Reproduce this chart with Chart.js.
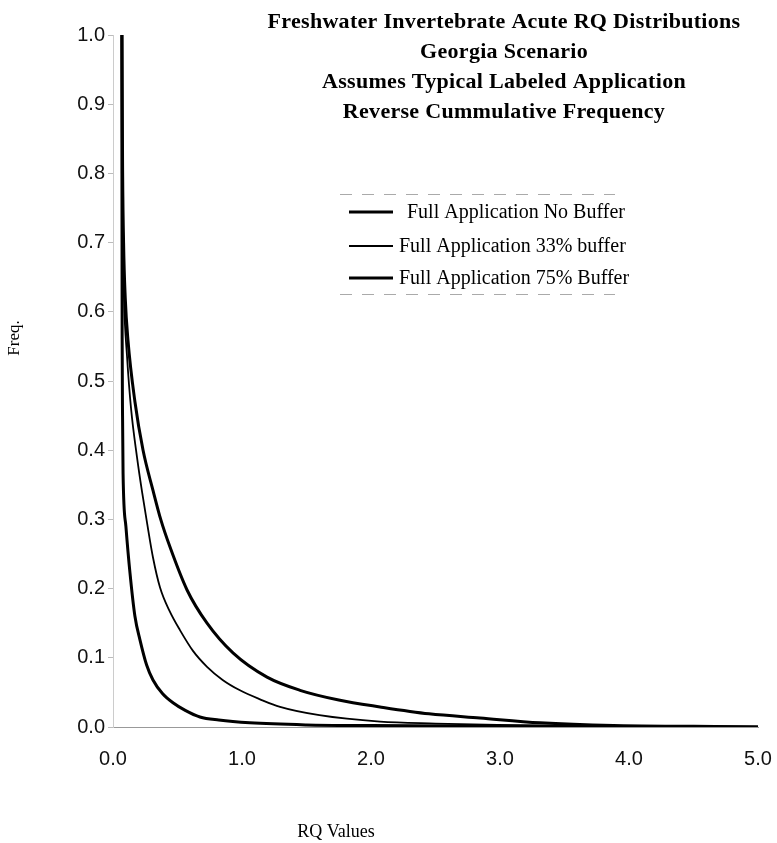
<!DOCTYPE html>
<html>
<head>
<meta charset="utf-8">
<script src="https://cdn.jsdelivr.net/npm/chart.js@4/dist/chart.umd.min.js"></script>
<style>
  html, body { margin: 0; padding: 0; background: #fff; }
  #wrap { width: 777px; height: 843px; position: relative; }
</style>
</head>
<body>
<div id="wrap"><canvas id="grafico"></canvas></div>
<script>
// --- DADOS ---
const TITULO = [
  "Freshwater Invertebrate Acute RQ Distributions",
  "Georgia Scenario",
  "Assumes Typical Labeled Application",
  "Reverse Cummulative Frequency"
];
const LABEL_X = "RQ Values";
const LABEL_Y = "Freq.";
const xTicks = [0, 1, 2, 3, 4, 5];
const yTicks = [0, 0.1, 0.2, 0.3, 0.4, 0.5, 0.6, 0.7, 0.8, 0.9, 1.0];

const seriesNames = [
  "Full Application No Buffer",
  "Full Application 33% buffer",
  "Full Application 75% Buffer"
];

// sem buffer (curva interna)
const noBufferRQ   = [0.068, 0.069, 0.070, 0.071, 0.074, 0.078, 0.10, 0.132, 0.17, 0.209, 0.26, 0.31, 0.385, 0.465, 0.56, 0.674, 0.82, 1.06, 1.5, 2.0, 3.0, 4.0, 5.0];
const noBufferFreq = [1.0, 0.85, 0.70, 0.56, 0.45, 0.367, 0.29, 0.222, 0.16, 0.126, 0.09, 0.068, 0.048, 0.035, 0.024, 0.0145, 0.010, 0.006, 0.003, 0.002, 0.001, 0.0005, 0];

// buffer 33% (curva do meio)
const buf33RQ   = [0.069, 0.071, 0.075, 0.085, 0.109, 0.14, 0.186, 0.225, 0.264, 0.31, 0.364, 0.44, 0.519, 0.62, 0.729, 0.85, 0.984, 1.14, 1.295, 1.6, 2.07, 2.5, 2.98, 3.5, 4.0, 5.0];
const buf33Freq = [1.0, 0.85, 0.72, 0.62, 0.535, 0.46, 0.39, 0.34, 0.295, 0.245, 0.202, 0.167, 0.14, 0.11, 0.087, 0.068, 0.053, 0.04, 0.029, 0.017, 0.0077, 0.005, 0.003, 0.002, 0.001, 0];

// buffer 75% (curva externa)
const buf75RQ   = [0.070, 0.074, 0.082, 0.095, 0.116, 0.17, 0.233, 0.31, 0.37, 0.442, 0.574, 0.729, 0.93, 1.194, 1.45, 1.75, 2.07, 2.45, 2.845, 3.31, 3.88, 4.5, 5.0];
const buf75Freq = [1.0, 0.82, 0.70, 0.62, 0.559, 0.47, 0.40, 0.342, 0.30, 0.26, 0.198, 0.150, 0.107, 0.072, 0.053, 0.039, 0.029, 0.019, 0.013, 0.006, 0.002, 0.001, 0];

const larguras = [3, 1.8, 3];

function pares(xs, ys) {
  return xs.map((x, i) => ({ x: x, y: ys[i] }));
}

// --- PLUGIN: título, rótulos dos eixos e legenda desenhados por cima ---
const textosExtras = {
  id: "textosExtras",
  afterDraw(chart) {
    const ctx = chart.ctx;
    ctx.save();
    ctx.fillStyle = "#000";

    // título em 4 linhas
    ctx.font = 'bold 22px "Liberation Serif", "Times New Roman", serif';
    ctx.letterSpacing = "0.3px";
    ctx.textAlign = "center";
    ctx.textBaseline = "middle";
    TITULO.forEach((linha, i) => ctx.fillText(linha, 504, 22 + i * 30));
    ctx.letterSpacing = "0px";

    // rótulos dos eixos
    ctx.font = '18px "Liberation Serif", "Times New Roman", serif';
    ctx.fillText(LABEL_X, 336, 832);
    ctx.save();
    ctx.translate(15, 338);
    ctx.rotate(-Math.PI / 2);
    ctx.font = '17px "Liberation Serif", "Times New Roman", serif';
    ctx.fillText(LABEL_Y, 0, 0);
    ctx.restore();

    // legenda
    ctx.strokeStyle = "#aaa";
    ctx.lineWidth = 1;
    ctx.setLineDash([12, 10]);
    ctx.beginPath();
    ctx.moveTo(340, 194.5); ctx.lineTo(615, 194.5);
    ctx.moveTo(340, 294.5); ctx.lineTo(615, 294.5);
    ctx.stroke();
    ctx.setLineDash([]);

    ctx.font = '20px "Liberation Serif", "Times New Roman", serif';
    ctx.textAlign = "left";
    const ys = [212, 246, 278];
    chart.data.datasets.forEach((ds, i) => {
      ctx.strokeStyle = ds.borderColor;
      ctx.lineWidth = ds.borderWidth;
      ctx.beginPath();
      ctx.moveTo(349, ys[i]);
      ctx.lineTo(393, ys[i]);
      ctx.stroke();
      ctx.fillText(ds.label, i === 0 ? 407 : 399, ys[i] + 1);
    });
    ctx.restore();
  }
};

const ctxGrafico = document.getElementById("grafico").getContext("2d");

const grafico = new Chart(ctxGrafico, {
  type: "scatter",
  data: {
    datasets: [
      { label: seriesNames[0], data: pares(noBufferRQ, noBufferFreq) },
      { label: seriesNames[1], data: pares(buf33RQ, buf33Freq) },
      { label: seriesNames[2], data: pares(buf75RQ, buf75Freq) }
    ].map((ds, i) => ({
      ...ds,
      showLine: true,
      borderColor: "#000",
      backgroundColor: "#000",
      borderWidth: larguras[i],
      pointRadius: 0,
      cubicInterpolationMode: "monotone",
      fill: false
    }))
  },
  options: {
    responsive: true,
    maintainAspectRatio: false,
    animation: false,
    layout: { padding: { left: 0, right: 19, top: 35, bottom: 0 } },
    plugins: {
      legend: { display: false },
      title: { display: false },
      tooltip: { enabled: false }
    },
    scales: {
      x: {
        type: "linear",
        min: 0,
        max: 5,
        afterBuildTicks: s => { s.ticks = xTicks.map(v => ({ value: v })); },
        afterFit: s => { s.height = 116; s.paddingLeft = 0; s.paddingRight = 0; },
        grid: { drawOnChartArea: false, drawTicks: false },
        border: { color: "#999", dash: [3, 5] },
        ticks: {
          padding: 20,
          color: "#111",
          font: { family: '"Liberation Sans", Arial, sans-serif', size: 20 },
          callback: v => Number(v).toFixed(1)
        }
      },
      y: {
        min: 0,
        max: 1,
        afterBuildTicks: s => { s.ticks = yTicks.map(v => ({ value: v })); },
        afterFit: s => { s.width = 113; s.paddingTop = 0; s.paddingBottom = 0; },
        grid: { drawOnChartArea: false, tickLength: 5, color: "#bbb" },
        border: { color: "#ccc", dash: [2, 6] },
        ticks: {
          padding: 3,
          color: "#111",
          font: { family: '"Liberation Sans", Arial, sans-serif', size: 20 },
          callback: v => Number(v).toFixed(1)
        }
      }
    }
  },
  plugins: [textosExtras]
});
</script>
</body>
</html>
